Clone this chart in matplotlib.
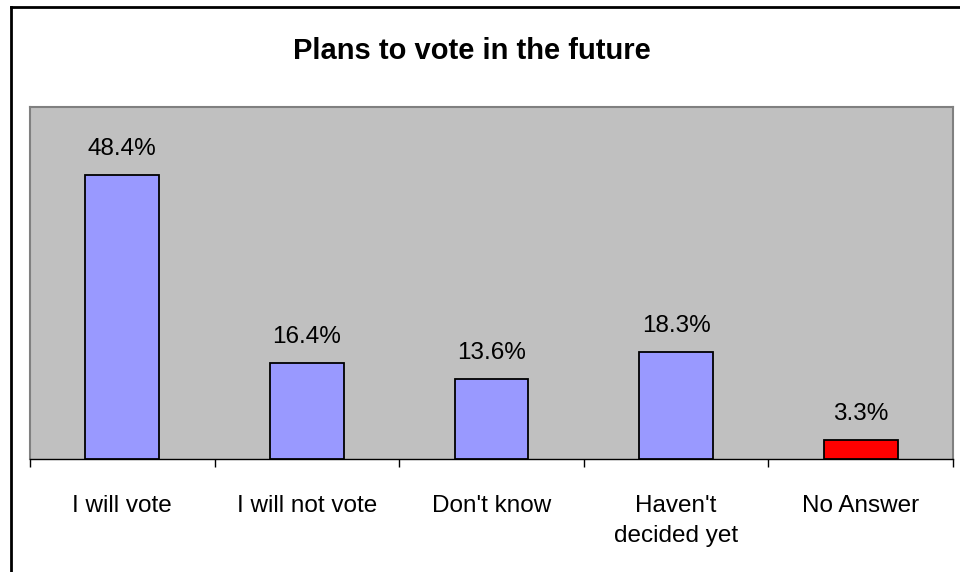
import matplotlib
matplotlib.use("Agg")
import matplotlib.pyplot as plt
from matplotlib.lines import Line2D
import numpy as np

categories = ["I will vote", "I will not vote", "Don't know", "Haven't\ndecided yet", "No Answer"]
values = [48.4, 16.4, 13.6, 18.3, 3.3]
colors = ["#9999FF", "#9999FF", "#9999FF", "#9999FF", "#FF0000"]
title = "Plans to vote in the future"

plt.rcParams['font.family'] = ['Liberation Sans', 'DejaVu Sans']

fig = plt.figure(figsize=(9.6, 5.72), dpi=100)
ax = fig.add_axes([30/960, 113/572, 923/960, 352/572])
ax.set_facecolor("#C0C0C0")

x = np.arange(len(categories))
ax.bar(x, values, width=0.4, color=colors, edgecolor="black", linewidth=1.3, zorder=3)
for xi, v in zip(x, values):
    ax.annotate(f"{v}%", (xi, v), xytext=(0, 14.5), textcoords="offset points",
                ha="center", va="baseline", fontsize=17.5, color="black")

ax.set_xlim(-0.5, len(categories) - 0.5)
ax.set_ylim(0, 60)
ax.set_yticks([])
ax.set_xticks(x)
ax.set_xticklabels(categories, fontsize=17.5, linespacing=1.45)
ax.tick_params(axis="x", which="major", length=0, pad=26)
ax.set_xticks(np.arange(-0.5, len(categories)), minor=True)
ax.tick_params(axis="x", which="minor", length=6, width=1, color="black", direction="out")
for s in ["left", "right", "top"]:
    ax.spines[s].set_color("#808080")
    ax.spines[s].set_linewidth(1.5)
ax.spines["bottom"].set_color("black")
ax.spines["bottom"].set_linewidth(1)

fig.text(472/960, (572-59)/572, title, ha="center", va="baseline",
         fontsize=21, fontweight="bold")

# outer chart border (left & top visible)
fig.add_artist(Line2D([11/960, 11/960], [0, 1 - 7/572], color="black", linewidth=2, transform=fig.transFigure))
fig.add_artist(Line2D([11/960, 1], [1 - 7/572, 1 - 7/572], color="black", linewidth=2, transform=fig.transFigure))

fig.savefig("out.png", dpi=100)
